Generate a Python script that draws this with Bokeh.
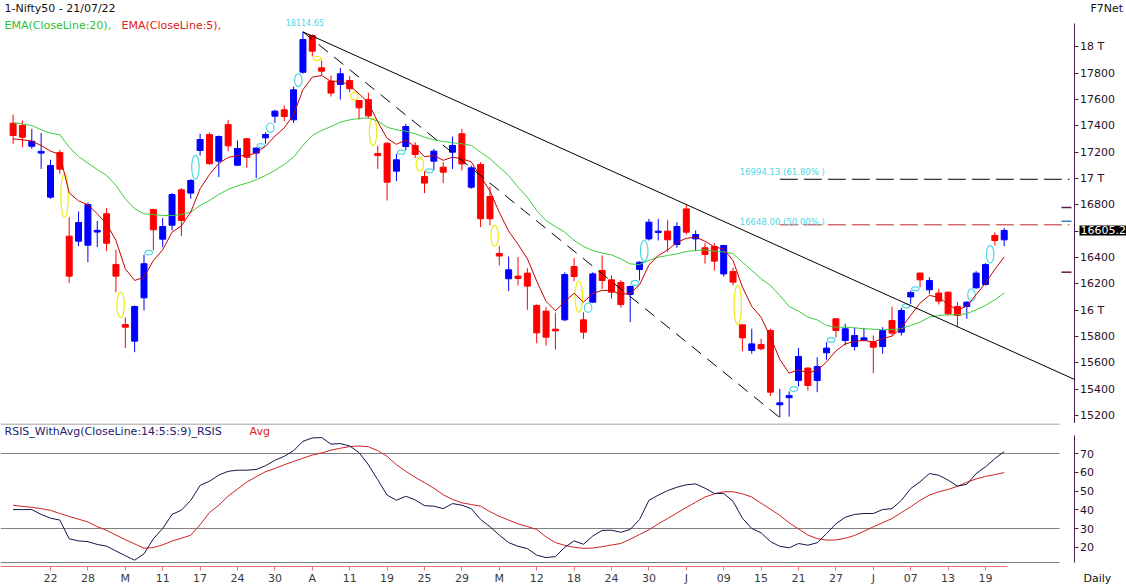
from bokeh.plotting import figure
from bokeh.models import Range1d, LinearAxis, FixedTicker, Label, ColumnDataSource
from bokeh.layouts import column
from bokeh.embed import file_html
from bokeh.resources import INLINE

# ---------------- data ----------------
x_tick_labels = ["22", "28", "M", "11", "17", "24", "30", "A", "11", "19", "25", "29", "M",
                 "12", "18", "24", "30", "J", "09", "15", "21", "27", "J", "07", "13", "19"]
x_tick_index = list(range(4, 105, 4))

opens = [17420, 17403, 17245, 17193, 16858, 17198, 16562, 16524, 16493, 16593,
         16732, 16347, 15890, 15764, 16093, 16765, 16539, 16645, 16914, 16889,
         17213, 17334, 17132, 17410, 17101, 17302, 17193, 17309, 17474, 17522,
         17446, 17808, 18087, 17841, 17740, 17715, 17745, 17593, 17599, 17190,
         17268, 17056, 17243, 17251, 17015, 17132, 17086, 17200, 17340, 16934,
         17106, 16863, 16430, 16238, 16258, 16281, 16035, 15992, 15855, 15926,
         16331, 15926, 16060, 16301, 16230, 16210, 16119, 16308, 16541, 16590,
         16600, 16498, 16769, 16541, 16473, 16483, 16275, 16293, 15888, 15693,
         15738, 15845, 15280, 15334, 15465, 15559, 15465, 15675, 15934, 15769,
         15723, 15770, 15756, 15723, 15921, 15832, 16100, 16281, 16154, 16129,
         16136, 16027, 16027, 16169, 16194, 16567, 16534]
highs = [17486, 17441, 17377, 17345, 17142, 17218, 16706, 16749, 16818, 16678,
         16775, 16458, 15944, 16035, 16420, 16770, 16699, 16889, 16927, 16995,
         17340, 17350, 17327, 17446, 17289, 17305, 17236, 17352, 17522, 17555,
         17699, 18114.65, 18095, 17897, 17783, 17839, 17778, 17597, 17652, 17250,
         17275, 17187, 17415, 17276, 17056, 17225, 17124, 17319, 17377, 17099,
         17124, 16939, 16486, 16407, 16404, 16318, 16043, 16023, 15980, 16288,
         16395, 15984, 16288, 16415, 16263, 16230, 16187, 16370, 16693, 16693,
         16686, 16668, 16802, 16605, 16508, 16508, 16495, 16324, 15890, 15858,
         15782, 15858, 15401, 15382, 15711, 15565, 15642, 15756, 15934, 15896,
         15865, 15865, 15807, 15870, 16027, 16017, 16149, 16285, 16250, 16161,
         16140, 16060, 16068, 16296, 16357, 16592, 16625]
lows = [17263, 17238, 17225, 17073, 16846, 17036, 16205, 16486, 16364, 16478,
        16448, 16136, 15711, 15680, 15997, 16453, 16478, 16605, 16562, 16846,
        17175, 17106, 17010, 17208, 17094, 17081, 17003, 17264, 17422, 17436,
        17421, 17796, 17927, 17783, 17623, 17600, 17656, 17448, 17457, 17073,
        16833, 16980, 17213, 17157, 16889, 17061, 16965, 17073, 17061, 16922,
        16630, 16643, 16340, 16144, 16186, 16002, 15748, 15730, 15700, 15916,
        16220, 15781, 16053, 16162, 16086, 16017, 15908, 16225, 16529, 16529,
        16445, 16473, 16574, 16448, 16352, 16301, 16255, 16187, 15688, 15668,
        15693, 15346, 15183.4, 15191, 15419, 15389, 15376, 15622, 15791, 15731,
        15693, 15760, 15521, 15668, 15807, 15807, 16047, 16174, 16124, 16043,
        15959, 15870, 15934, 16162, 16187, 16491, 16486]
closes = [17327, 17314, 17283, 17206, 17099, 17071, 16258, 16666, 16802, 16606,
          16508, 16258, 15870, 16027, 16352, 16610, 16635, 16878, 16681, 16985,
          17296, 17112, 17319, 17248, 17228, 17162, 17231, 17334, 17512, 17471,
          17674, 18056, 17968, 17816, 17649, 17796, 17682, 17537, 17476, 17174,
          16972, 17142, 17395, 17183, 16965, 17208, 17048, 17251, 17111, 17081,
          16694, 16694, 16411, 16306, 16240, 16182, 15827, 15794, 15842, 16270,
          16255, 15832, 16275, 16225, 16136, 16042, 16179, 16364, 16668, 16600,
          16534, 16635, 16592, 16574, 16423, 16372, 16491, 16212, 15789, 15743,
          15706, 15376, 15295, 15350, 15647, 15427, 15571, 15711, 15845, 15858,
          15807, 15789, 15718, 15845, 15825, 15997, 16133, 16230, 16225, 16068,
          15972, 15959, 16060, 16281, 16346, 16529, 16605.2]
ema20 = [17423, 17415, 17403, 17370, 17345, 17332, 17238, 17167, 17117, 17068,
         17023, 16947, 16846, 16770, 16731, 16726, 16719, 16719, 16726, 16745,
         16795, 16833, 16879, 16917, 16944, 16965, 16990, 17023, 17061, 17107,
         17162, 17251, 17327, 17365, 17395, 17428, 17446, 17456, 17461, 17436,
         17390, 17370, 17360, 17340, 17314, 17294, 17281, 17271, 17264, 17251,
         17200, 17150, 17086, 17023, 16934, 16858, 16757, 16680, 16635, 16592,
         16529, 16483, 16453, 16433, 16420, 16389, 16351, 16346, 16377, 16402,
         16415, 16427, 16445, 16453, 16458, 16448, 16442, 16428, 16364, 16301,
         16238, 16187, 16111, 16027, 15992, 15946, 15926, 15883, 15870, 15870,
         15865, 15858, 15855, 15850, 15853, 15858, 15883, 15908, 15946, 15959,
         15964, 15964, 15972, 16002, 16035, 16078, 16129]
ema5 = [17301, 17294, 17284, 17251, 17208, 17182, 16890, 16830, 16800, 16732,
        16656, 16529, 16314, 16225, 16250, 16377, 16458, 16592, 16640, 16745,
        16922, 17030, 17115, 17160, 17175, 17172, 17195, 17245, 17322, 17385,
        17485, 17675, 17770, 17783, 17738, 17740, 17708, 17643, 17575, 17430,
        17305, 17260, 17292, 17240, 17165, 17175, 17138, 17162, 17150, 17126,
        17015, 16905, 16742, 16600, 16500, 16390, 16220, 16066, 15995, 16065,
        16128, 16060, 16126, 16150, 16148, 16120, 16126, 16192, 16342, 16415,
        16456, 16515, 16545, 16555, 16523, 16480, 16464, 16376, 16175, 16028,
        15945, 15795, 15625, 15520, 15547, 15521, 15543, 15605, 15690, 15743,
        15762, 15770, 15757, 15783, 15802, 15865, 15960, 16053, 16112, 16095,
        16044, 15999, 16031, 16117, 16205, 16310, 16404]
rsi = [40.1, 40.1, 40.1, 37.5, 35.5, 34.5, 24.5, 23.4, 23.0, 21.5,
       20.6, 18.0, 15.5, 13.1, 16.5, 24.5, 30.0, 37.5, 39.8, 45.0,
       53.0, 55.2, 58.5, 60.5, 61.1, 61.1, 61.5, 63.5, 66.4, 68.5,
       71.5, 76.5, 78.3, 78.5, 75.0, 75.3, 74.0, 70.5, 64.0, 56.0,
       47.8, 45.1, 47.2, 45.3, 42.2, 41.9, 40.6, 43.3, 42.4, 40.6,
       34.8, 31.0, 26.5, 22.5, 20.5, 19.3, 15.8, 14.5, 15.0, 20.0,
       23.4, 21.6, 26.0, 29.0, 29.1, 28.0, 29.5, 34.8, 45.0, 47.8,
       50.2, 52.0, 53.3, 53.8, 51.5, 48.7, 48.7, 44.5, 35.5, 30.0,
       27.7, 23.0, 20.5, 19.7, 22.0, 21.1, 22.4, 27.3, 32.5, 36.0,
       37.5, 38.0, 38.0, 40.1, 40.6, 45.0, 51.3, 54.9, 59.3, 58.4,
       55.8, 52.6, 53.6, 59.3, 62.9, 67.3, 71.0]
rsi_avg = [42.4, 41.8, 41.3, 40.6, 39.7, 38.0, 36.4, 35.0, 33.5, 31.0,
           29.0, 26.5, 24.0, 21.8, 19.5, 19.8, 21.3, 23.3, 24.8, 26.4,
           32.0, 38.5, 42.4, 47.3, 51.0, 54.8, 57.6, 60.3, 62.0, 64.0,
           65.8, 67.5, 69.2, 70.3, 71.8, 72.8, 73.7, 74.0, 73.6, 71.5,
           68.5, 64.0, 60.5, 57.3, 54.5, 51.5, 48.0, 45.5, 43.7, 42.8,
           41.9, 39.0, 36.5, 34.5, 32.5, 31.0, 29.5, 25.5, 22.5, 21.0,
           20.0, 19.4, 19.6, 20.3, 21.2, 22.0, 24.3, 26.8, 29.3, 32.5,
           35.3, 38.3, 41.2, 44.0, 46.8, 48.5, 49.6, 49.6, 48.5, 46.8,
           43.5, 40.3, 37.0, 33.0, 29.8, 26.5, 24.6, 23.8, 23.9, 24.8,
           26.3, 28.5, 30.9, 33.1, 35.3, 38.5, 41.6, 45.0, 47.8, 49.6,
           50.8, 52.5, 54.7, 56.4, 57.8, 58.8, 59.8]
gap_up_after = [14, 19, 26, 27, 30, 41, 44, 61, 66, 67, 83, 87, 95, 96, 102, 104]
gap_down_after = [5, 11, 32, 36, 38, 43, 51, 60, 77]
trend_from, trend_to = 31, 72          # bars whose highs define the falling trendline
swing_high_bar, swing_low_bar = 31, 82  # fib swing
fib_levels = [16994.13, 16648.00]
fib_texts = ["16994.13 (61.80% )", "16648.00 (50.00% )"]
side_marks = [16780, 16675, 16288]
price_ticks = list(range(15200, 18001, 200))
price_label_overrides = {18000: "18 T", 17000: "17 T", 16000: "16 T", 16600: ""}
rsi_ticks = [20, 30, 40, 50, 60, 70]
rsi_grid = [70, 30]

# ---------------- layout / styling constants ----------------
FONT = "DejaVu Sans"
W = 1126
AXIS_PX = 1073.5           # x pixel of the right axes
PXB = 9.35                 # pixels per bar
X0 = -12.6 / PXB
X1 = X0 + W / PXB
H1 = 423
PPP = 7.6                  # price points per pixel
Y_TOP = 17000 + 178 * PPP
Y_BOT = Y_TOP - H1 * PPP
UP, DN = "#0000ff", "#ff0000"
CYAN, YEL = "#4fd6e6", "#ecec10"
AXC = "#4a1a4a"


def px_to_x(px):
    return X0 + px / PXB


def style_axis(a, tick_color, label_color, standoff):
    a.axis_line_color = tick_color
    a.major_tick_line_color = tick_color
    a.major_tick_out = 4
    a.major_tick_in = 0
    a.minor_tick_out = 0
    a.minor_tick_in = 0
    a.major_label_standoff = standoff
    a.major_label_text_font = FONT
    a.major_label_text_font_size = "11px"
    a.major_label_text_color = label_color


n = len(closes)
idx = list(range(n))
X_AX = px_to_x(AXIS_PX)

p1 = figure(width=W, height=H1, x_range=Range1d(X0, X1), y_range=Range1d(Y_BOT, Y_TOP),
            output_backend="svg", toolbar_location=None,
            x_axis_location=None, y_axis_location=None,
            min_border_left=0, min_border_right=0, min_border_top=0, min_border_bottom=0,
            outline_line_color=None, background_fill_color="white", border_fill_color="white")
p1.xgrid.visible = False
p1.ygrid.visible = False

ax = LinearAxis(ticker=FixedTicker(ticks=price_ticks),
                major_label_overrides=price_label_overrides,
                bounds=(Y_BOT, Y_TOP - 23 * PPP), fixed_location=X_AX)
style_axis(ax, AXC, "#2a102a", 2)
p1.add_layout(ax, "right")

# candles
src = ColumnDataSource(dict(
    x=idx, h=highs, l=lows,
    top=[max(o, c) for o, c in zip(opens, closes)],
    bottom=[min(o, c) for o, c in zip(opens, closes)],
    color=[UP if c >= o else DN for o, c in zip(opens, closes)]))
p1.segment(x0="x", y0="l", x1="x", y1="h", line_color="color", line_width=1, source=src)
p1.vbar(x="x", width=0.64, top="top", bottom="bottom", fill_color="color",
        line_color="color", line_width=1, source=src)

# gap markers
MIN_H = 4 * PPP
for lst, col, up in ((gap_up_after, CYAN, True), (gap_down_after, YEL, False)):
    xs, ys, hs = [], [], []
    for i in lst:
        a = highs[i] if up else lows[i]
        b = lows[i + 1] if up else highs[i + 1]
        xs.append(i + 0.5)
        ys.append((a + b) / 2)
        hs.append(max(abs(a - b), MIN_H))
    p1.ellipse(x=xs, y=ys, width=0.8, height=hs, fill_color=None, line_color=col, line_width=1.2)

# EMAs
p1.line(idx, ema20, line_color="#3ccc3c", line_width=1)
p1.line(idx, ema5, line_color="#c80000", line_width=1)

# trendline and swing line
slope = (highs[trend_to] - highs[trend_from]) / (trend_to - trend_from)
p1.line([trend_from, X_AX], [highs[trend_from], highs[trend_from] + slope * (X_AX - trend_from)],
        line_color="black", line_width=1)
p1.line([swing_high_bar, swing_low_bar], [highs[swing_high_bar], lows[swing_low_bar]],
        line_color="black", line_width=1, line_dash="12 8")

# fib levels
fib_cols = ["black", "#c02828"]
fib_text_off = [7.5, 3.0]
x_end = px_to_x(1069)
for lvl, txt, col, off in zip(fib_levels, fib_texts, fib_cols, fib_text_off):
    p1.line([swing_low_bar, x_end], [lvl, lvl], line_color=col, line_width=1, line_dash="18 6")
    p1.add_layout(Label(x=swing_low_bar - 40 / PXB, y=lvl + off * PPP, text=txt,
                        text_font=FONT, text_font_size="8.5px", text_color=CYAN,
                        text_baseline="middle", text_align="left"))

# peak label
p1.add_layout(Label(x=swing_high_bar + 0.2, y=highs[swing_high_bar] + 9 * PPP,
                    text=f"{highs[swing_high_bar]:.2f}", text_font=FONT, text_font_size="8px",
                    text_color=CYAN, text_align="center", text_baseline="middle"))

# side markers near axis
p1.segment(x0=[px_to_x(1061)] * 3, x1=[px_to_x(1071)] * 3, y0=side_marks, y1=side_marks,
           line_color=["#5a1a4a", "#3a7ac8", "#6a1a2a"], line_width=1.5)

# last price tag
p1.add_layout(Label(x=px_to_x(1079), y=closes[-1], text=f"{closes[-1]:.1f}",
                    text_font=FONT, text_font_size="11px", text_color="white",
                    background_fill_color="black", background_fill_alpha=1.0,
                    padding=1, text_baseline="middle", text_align="left"))

# header texts
p1.add_layout(Label(x=4, y=H1 - 8, x_units="screen", y_units="screen", text="1-Nifty50 - 21/07/22",
                    text_font=FONT, text_font_size="11px", text_color="#111111", text_baseline="middle"))
p1.add_layout(Label(x=4, y=H1 - 25, x_units="screen", y_units="screen", text="EMA(CloseLine:20),",
                    text_font=FONT, text_font_size="11px", text_color="#2fc02f", text_baseline="middle"))
p1.add_layout(Label(x=121, y=H1 - 25, x_units="screen", y_units="screen", text="EMA(CloseLine:5),",
                    text_font=FONT, text_font_size="11px", text_color="#e02020", text_baseline="middle"))
p1.add_layout(Label(x=1090, y=H1 - 8, x_units="screen", y_units="screen", text="F7Net",
                    text_font=FONT, text_font_size="11px", text_color="#111111", text_baseline="middle"))

# ---------------- RSI panel ----------------
H2 = 164
RPX = 1.875                # px per RSI unit
R_TOP = 70 + (453 - 423) / RPX
R_BOT = R_TOP - H2 / RPX
R_AXIS = 70 - (566 - 453) / RPX   # level of the date axis line


def py_to_r(py):
    return 70 - (py - 453) / RPX


p2 = figure(width=W, height=H2, x_range=p1.x_range, y_range=Range1d(R_BOT, R_TOP),
            output_backend="svg", toolbar_location=None,
            x_axis_location=None, y_axis_location=None,
            min_border_left=0, min_border_right=0, min_border_top=0, min_border_bottom=0,
            outline_line_color=None, background_fill_color="white", border_fill_color="white")
p2.xgrid.visible = False
p2.ygrid.visible = False

gx1 = px_to_x(1059)
hl = [py_to_r(423.5)] + rsi_grid + [py_to_r(562)]
p2.segment(x0=[X0] * len(hl), x1=[gx1] * len(hl), y0=hl, y1=hl, line_color="#808080", line_width=1)

p2.line(idx, rsi_avg, line_color="#cc2222", line_width=1)
p2.line(idx, rsi, line_color="#14144a", line_width=1)

xa = LinearAxis(ticker=FixedTicker(ticks=x_tick_index),
                major_label_overrides={k: v for k, v in zip(x_tick_index, x_tick_labels)},
                bounds=(X0, n - 1 + 0.3), fixed_location=R_AXIS)
style_axis(xa, "#e87070", "#3a3a3a", 1)
p2.add_layout(xa, "below")

ra = LinearAxis(ticker=FixedTicker(ticks=rsi_ticks), bounds=(12, 79.6), fixed_location=X_AX)
style_axis(ra, AXC, "#2a102a", 2)
p2.add_layout(ra, "right")

p2.add_layout(Label(x=4, y=H2 - 8, x_units="screen", y_units="screen",
                    text="RSIS_WithAvg(CloseLine:14:5:S:9)_RSIS", text_font=FONT,
                    text_font_size="11px", text_color="#23236a", text_baseline="middle"))
p2.add_layout(Label(x=249, y=H2 - 8, x_units="screen", y_units="screen", text="Avg",
                    text_font=FONT, text_font_size="11px", text_color="#e02020", text_baseline="middle"))
p2.add_layout(Label(x=1083, y=H2 - (578 - 423), x_units="screen", y_units="screen", text="Daily",
                    text_font=FONT, text_font_size="11px", text_color="#111111", text_baseline="middle"))

layout = column(p1, p2, spacing=0)
open("out.html", "w").write(file_html(layout, INLINE))
